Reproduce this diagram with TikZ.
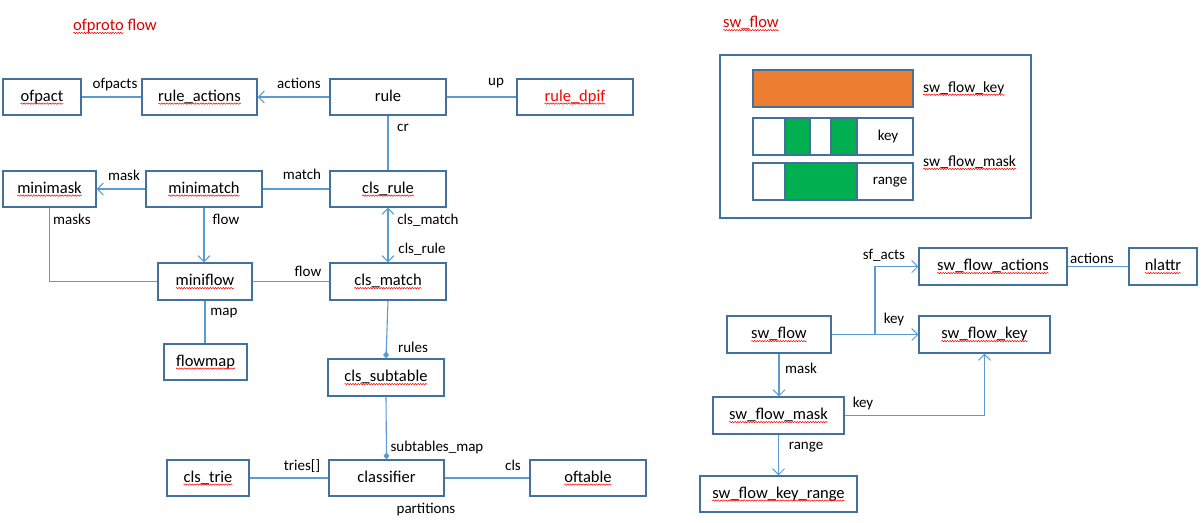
\documentclass[tikz,border=0pt]{standalone}
\usepackage{fontspec}
\setmainfont{Carlito}
\usetikzlibrary{arrows.meta,decorations.pathmorphing}
\definecolor{boxc}{HTML}{41719C}
\definecolor{linec}{HTML}{5B9BD5}
\definecolor{orng}{HTML}{ED7D31}
\definecolor{grn}{HTML}{00B050}
\definecolor{ttl}{HTML}{D80000}
\newcommand\nfnt{\fontsize{16.5}{19}\selectfont}
\newcommand\lfnt{\fontsize{15}{18}\selectfont}
\newcommand\sq[1]{\tikz[baseline=(sqt.base)]{\node[inner sep=0pt,outer sep=0pt,draw=none,minimum width=0pt,minimum height=0pt](sqt){#1};\draw[overlay,draw=red,line width=0.5pt,decorate,decoration={snake,amplitude=0.7pt,segment length=2.6pt}] ([yshift=-2.6pt]sqt.base west) -- ([yshift=-2.6pt]sqt.base east);}}
\tikzset{
  box/.style={draw=boxc, line width=1.2pt, minimum height=36pt, inner sep=0pt, font=\nfnt, text height=11.5pt, text depth=3.5pt},
  lab/.style={inner sep=0pt, font=\lfnt},
  conn/.style={draw=linec, line width=1.1pt},
  arr/.style={conn, -{Straight Barb[length=6pt,width=12pt,line width=1pt]}},
  arrboth/.style={conn, {Straight Barb[length=6pt,width=12pt,line width=1pt]}-{Straight Barb[length=6pt,width=12pt,line width=1pt]}},
  dia/.style={conn, -{Diamond[length=7pt,width=6pt]}},
  bar/.style={draw=boxc, line width=1.2pt},
}
\begin{document}
\begin{tikzpicture}[x=1pt,y=-1pt]
\useasboundingbox (0,0) rectangle (1204,522);
% titles
\node[anchor=west, inner sep=0pt, font=\nfnt, text=ttl] (t1) at (73,26) {\sq{ofproto} flow};
\node[anchor=west, inner sep=0pt, font=\nfnt, text=ttl] (t2) at (723,23) {\sq{sw\_flow}};
% left nodes
\node[box, minimum width=78pt] (ofpact) at (42,97) {\sq{ofpact}};
\node[box, minimum width=115pt] (ractions) at (199.5,97) {\sq{rule\_actions}};
\node[box, minimum width=116pt] (rule) at (388,97) {rule};
\node[box, minimum width=116pt, text=red] (dpif) at (575,97) {\sq{rule\_dpif}};
\node[box, minimum width=93pt] (minimask) at (49.5,189) {\sq{minimask}};
\node[box, minimum width=116pt] (minimatch) at (204,189) {\sq{minimatch}};
\node[box, minimum width=116pt] (clsrule) at (388,189) {\sq{cls\_rule}};
\node[box, minimum width=94pt, minimum height=37pt] (miniflow) at (205,281.5) {\sq{miniflow}};
\node[box, minimum width=116pt, minimum height=37pt] (clsmatch) at (388,281.5) {\sq{cls\_match}};
\node[box, minimum width=83pt] (flowmap) at (205.5,362) {\sq{flowmap}};
\node[box, minimum width=116pt, minimum height=37pt] (clssub) at (386,377.5) {\sq{cls\_subtable}};
\node[box, minimum width=115pt] (classifier) at (386.5,478) {classifier};
\node[box, minimum width=82pt] (clstrie) at (208,478) {\sq{cls\_trie}};
\node[box, minimum width=116pt] (oftable) at (588,478) {\sq{oftable}};
% left labels
\node[lab] (l1) at (115,85) {ofpacts};
\node[lab] (l2) at (299,83) {actions};
\node[lab] (l3) at (496,83) {up};
\node[lab] (l4) at (403,128) {cr};
\node[lab] (l5) at (124,175) {mask};
\node[lab] (l6) at (302,174) {match};
\node[lab] (l7) at (72,219) {masks};
\node[lab] (l8) at (226,219) {flow};
\node[lab] (l9) at (428,220) {cls\_match};
\node[lab] (l10) at (422,249) {cls\_rule};
\node[lab] (l11) at (308,271) {flow};
\node[lab] (l12) at (224,313) {map};
\node[lab] (l13) at (413,347) {rules};
\node[lab] (l14) at (437,447) {subtables\_map};
\node[lab] (l15) at (302,466) {tries[]};
\node[lab] (l16) at (513,465) {cls};
\node[lab] (l17) at (426,510) {partitions};
% left connectors
\draw[conn] (ofpact) -- (ractions);
\draw[arr] (rule) -- (ractions);
\draw[conn] (rule) -- (dpif);
\draw[conn] (rule) -- (clsrule);
\draw[arr] (minimatch) -- (minimask);
\draw[conn] (clsrule) -- (minimatch);
\draw[arr] (minimatch.south) -- (minimatch.south |- miniflow.north);
\draw[arrboth] (clsrule) -- (clsmatch);
\draw[conn] (minimask.south) |- (miniflow.west);
\draw[conn] (clsmatch) -- (miniflow);
\draw[conn] (miniflow.south) -- (miniflow.south |- flowmap.north);
\draw[dia] (clsmatch.south) -- (clssub.north);
\draw[dia] (clssub.south) -- (classifier.north);
\draw[conn] (classifier) -- (clstrie);
\draw[conn] (classifier) -- (oftable);
% right: legend box
\draw[boxc, line width=1.2pt] (720,55) rectangle (1031,218);
\draw[bar, fill=orng] (753,70) rectangle (913,107);
\draw[bar] (753,118) rectangle (913,155);
\draw[bar, fill=grn] (785,118) rectangle (810,155);
\draw[bar, fill=grn] (831,118) rectangle (857,155);
\draw[bar] (753,163) rectangle (913,200);
\draw[bar, fill=grn] (785,163) rectangle (857,200);
\node[lab] (bk) at (888,136) {key};
\node[lab] (br) at (890,182) {range};
\node[lab, anchor=west, font=\fontsize{15.5}{18}\selectfont] (bl1) at (923,88) {\sq{sw\_flow\_key}};
\node[lab, anchor=west, font=\fontsize{15.5}{18}\selectfont] (bl2) at (923,162) {\sq{sw\_flow\_mask}};
% right nodes
\node[box, minimum width=148pt, minimum height=37pt] (swactions) at (993,266.5) {\sq{sw\_flow\_actions}};
\node[box, minimum width=68pt, minimum height=37pt] (nlattr) at (1163,266.5) {\sq{nlattr}};
\node[box, minimum width=104pt, minimum height=37pt] (swflow) at (779,334.5) {\sq{sw\_flow}};
\node[box, minimum width=131pt, minimum height=37pt] (swkey) at (984.5,334.5) {\sq{sw\_flow\_key}};
\node[box, minimum width=131pt, minimum height=37pt] (swmask) at (778.5,415.5) {\sq{sw\_flow\_mask}};
\node[box, minimum width=157pt] (swrange) at (778.5,494) {\sq{sw\_flow\_key\_range}};
% right labels
\node[lab] (r1) at (1092,258) {actions};
\node[lab] (r2) at (884,255) {sf\_acts};
\node[lab] (r3) at (894,319) {key};
\node[lab] (r4) at (801,368) {mask};
\node[lab] (r5) at (863,403) {key};
\node[lab] (r6) at (806,447) {range};
% right connectors
\coordinate (j1) at (875,334.5);
\draw[arr] (swflow.east) -- (j1) |- (swactions.west);
\draw[arr] (swflow) -- (swkey);
\draw[arr] (swflow.south) -- (swflow.south |- swmask.north);
\draw[arr] (swmask.east) -| (swkey.south);
\draw[arr] (swmask.south) -- (swmask.south |- swrange.north);
\draw[conn] (swactions) -- (nlattr);
\end{tikzpicture}
\end{document}
